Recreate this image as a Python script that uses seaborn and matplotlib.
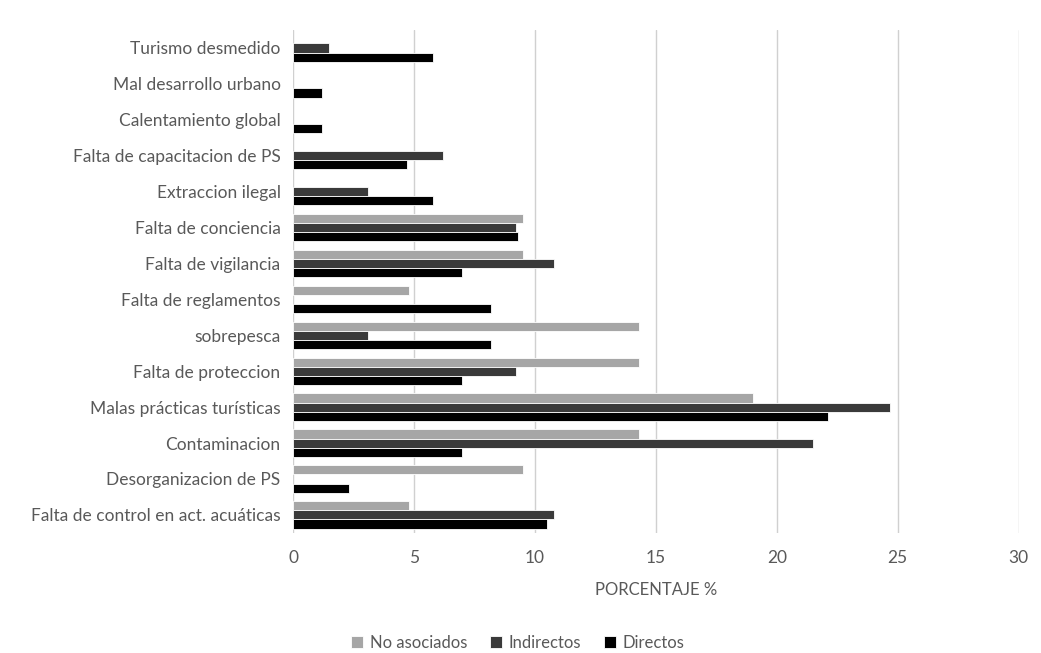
import pandas as pd
import matplotlib.pyplot as plt
import seaborn as sns

categories = ['Turismo desmedido', 'Mal desarrollo urbano', 'Calentamiento global',
              'Falta de capacitacion de PS', 'Extraccion ilegal', 'Falta de conciencia',
              'Falta de vigilancia', 'Falta de reglamentos', 'sobrepesca',
              'Falta de proteccion', 'Malas prácticas turísticas', 'Contaminacion',
              'Desorganizacion de PS', 'Falta de control en act. acuáticas']
series = ['No asociados', 'Indirectos', 'Directos']

# None = no bar for that category
no_asociados = [None, None, None, None, None, 9.5, 9.5, 4.8, 14.3, 14.3, 19.0, 14.3, 9.5, 4.8]
indirectos = [1.5, None, None, 6.2, 3.1, 9.2, 10.8, None, 3.1, 9.2, 24.7, 21.5, None, 10.8]
directos = [5.8, 1.2, 1.2, 4.7, 5.8, 9.3, 7.0, 8.2, 8.2, 7.0, 22.1, 7.0, 2.3, 10.5]

rows = []
for name, vals in zip(series, [no_asociados, indirectos, directos]):
    for cat, v in zip(categories, vals):
        if v is not None:
            rows.append({'Causa': cat, 'Tipo': name, 'Porcentaje': v})
df = pd.DataFrame(rows)

sns.set_theme(style='white')
plt.rcParams['font.family'] = ['Lato', 'DejaVu Sans']
text_color = '#595959'

fig = plt.figure(figsize=(10.41, 6.53), dpi=100)
ax = fig.add_axes([0.2815, 0.184, 0.697, 0.77])

palette = {'No asociados': '#a6a6a6', 'Indirectos': '#3a3a3a', 'Directos': '#000000'}
sns.barplot(data=df, y='Causa', x='Porcentaje', hue='Tipo', order=categories,
            hue_order=series, palette=palette, orient='h', width=0.76,
            edgecolor='white', linewidth=0.6, saturation=1, ax=ax)

ax.set_xlim(0, 30)
ax.set_xticks(range(0, 31, 5))
ax.grid(axis='x', color='#d0d0d0', linewidth=1)
ax.set_axisbelow(True)
for s in ax.spines.values():
    s.set_visible(False)
ax.tick_params(axis='both', length=0, labelsize=12.5, colors=text_color)
ax.tick_params(axis='x', pad=12)
ax.tick_params(axis='y', pad=9)
ax.set_ylabel('')
ax.set_xlabel('PORCENTAJE %', fontsize=12, color=text_color, labelpad=12)

ax.legend(loc='lower center', bbox_to_anchor=(0.31, -0.265), ncol=3, frameon=False,
          fontsize=12, labelcolor=text_color, handlelength=0.7, handleheight=0.7,
          handletextpad=0.4, columnspacing=1.4)

fig.savefig('out.png', dpi=100, facecolor='white')
